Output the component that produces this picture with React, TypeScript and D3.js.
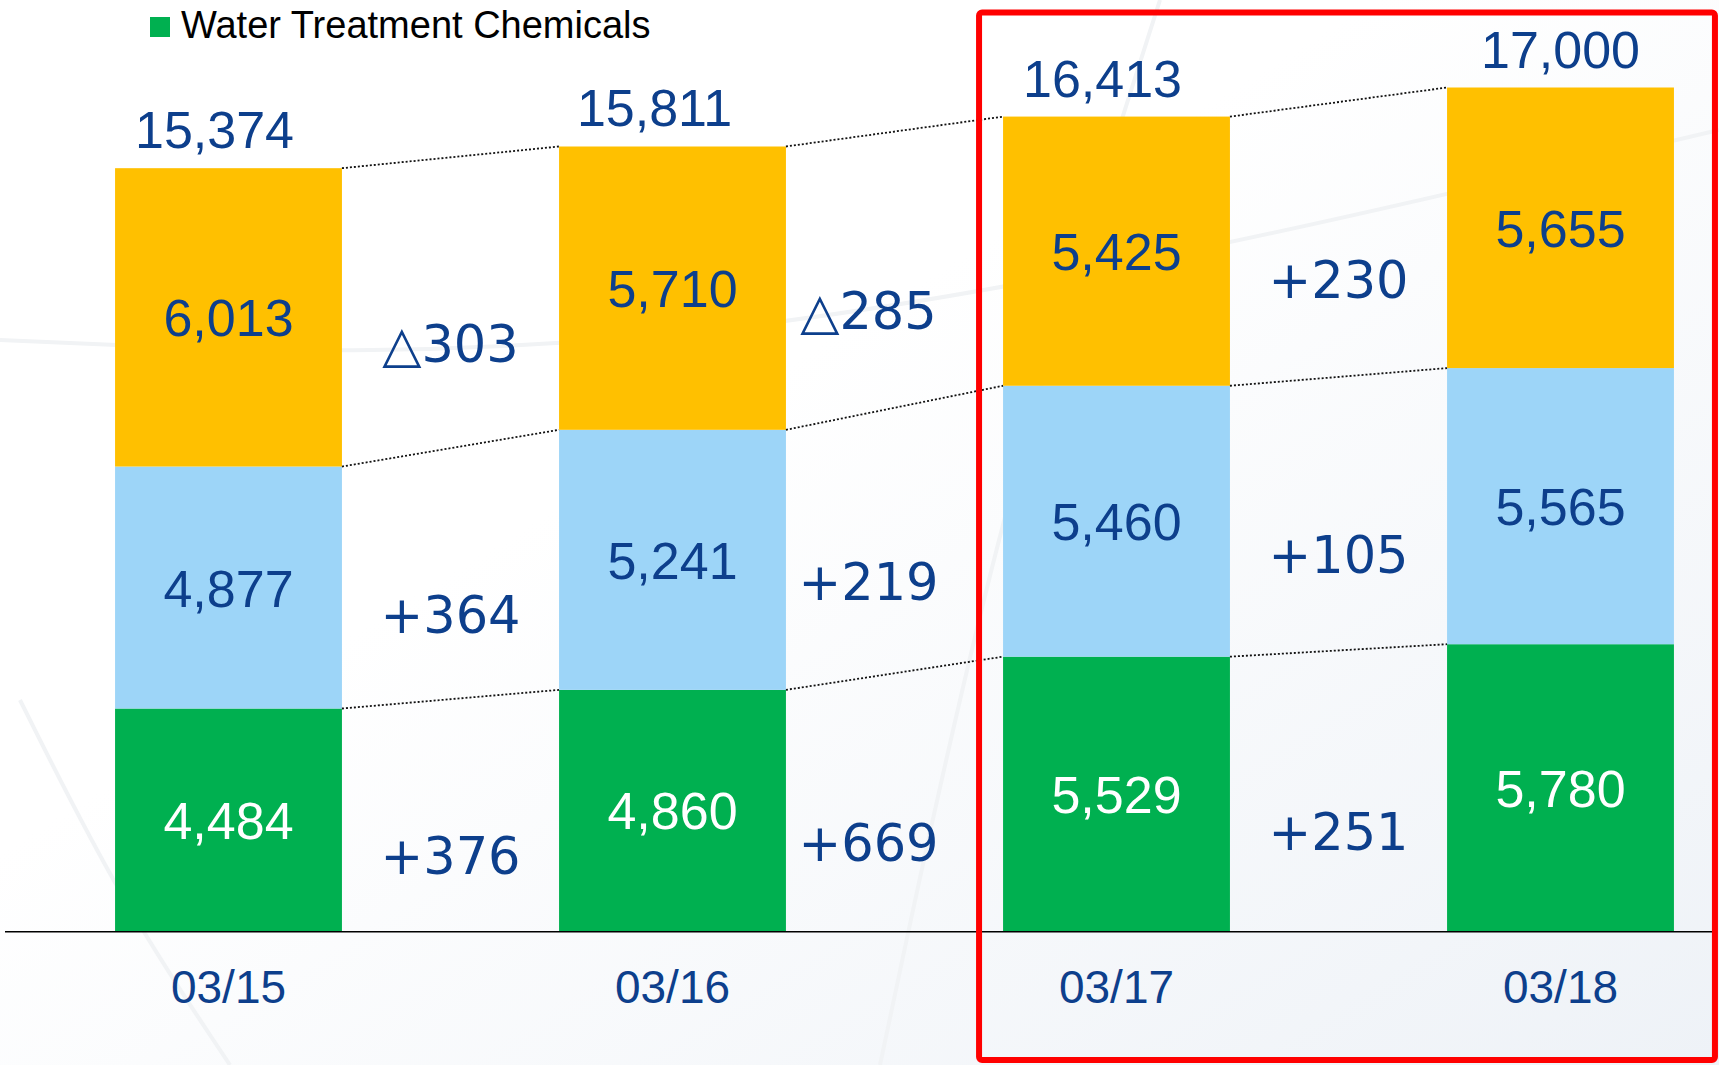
import React, { useEffect, useRef } from 'react';
import * as d3 from 'd3';

const YEARS = ['03/15', '03/16', '03/17', '03/18'];
const WATER_CHEMICALS = [4484, 4860, 5529, 5780];
const SEGMENT_BLUE = [4877, 5241, 5460, 5565];
const SEGMENT_YELLOW = [6013, 5710, 5425, 5655];
const TOTALS = [15374, 15811, 16413, 17000];
const LEGEND_LABEL = 'Water Treatment Chemicals';
const HIGHLIGHT = ['03/17', '03/18'];

const WIDTH = 1719;
const HEIGHT = 1065;
const BASE_Y = 931;
const TOP_Y = 87.5;

const GREEN = '#00B050';
const BLUE = '#9DD5F8';
const YELLOW = '#FFC000';
const NAVY = '#0D3F8C';
const SANS = '"Liberation Sans", Arial, sans-serif';
const WIDE = '"DejaVu Sans", Verdana, sans-serif';

// the middle delta column is nudged left to clear the highlight box,
// and the older totals sit a little left of their bars as in the slide
const GAP_NUDGE = [0, -26, 0];
const TOTAL_NUDGE = [-14, -18, -14, 0];

type Row = { year: string; green: number; blue: number; yellow: number };
const KEYS = ['green', 'blue', 'yellow'] as const;
const FILL: Record<string, string> = { green: GREEN, blue: BLUE, yellow: YELLOW };

const App: React.FC = () => {
  const svgRef = useRef<SVGSVGElement>(null);

  useEffect(() => {
    if (!svgRef.current) return;
    const root = d3.select(svgRef.current);
    root.selectAll('*').remove();

    const rows: Row[] = YEARS.map((year, i) => ({
      year,
      green: WATER_CHEMICALS[i],
      blue: SEGMENT_BLUE[i],
      yellow: SEGMENT_YELLOW[i],
    }));

    const x = d3.scalePoint<string>().domain(YEARS).range([228.5, 1560.5]);
    const barW = x.step() * 0.511;
    const y = d3
      .scaleLinear()
      .domain([0, d3.max(TOTALS) || 0])
      .range([BASE_Y, TOP_Y]);

    // soft slide-style background
    const defs = root.append('defs');
    const grad = defs
      .append('linearGradient')
      .attr('id', 'bg')
      .attr('x1', '0')
      .attr('y1', '0')
      .attr('x2', '1')
      .attr('y2', '1');
    grad.append('stop').attr('offset', '0.4').attr('stop-color', '#ffffff');
    grad.append('stop').attr('offset', '1').attr('stop-color', '#eef2f7');
    root.append('rect').attr('width', WIDTH).attr('height', HEIGHT).attr('fill', 'url(#bg)');
    const swoosh = d3.line().curve(d3.curveBasis);
    [
      [[20, 700], [120, 900], [230, 1065]],
      [[1160, 0], [1000, 500], [880, 1065]],
      [[0, 340], [700, 370], [1719, 130]],
    ].forEach(pts =>
      root
        .append('path')
        .attr('d', swoosh(pts as [number, number][]))
        .attr('fill', 'none')
        .attr('stroke', '#f1f3f5')
        .attr('stroke-width', 4),
    );

    const series = d3.stack<Row>().keys(KEYS as unknown as string[])(rows);

    // bars
    series.forEach(s => {
      root
        .append('g')
        .selectAll('rect')
        .data(s)
        .enter()
        .append('rect')
        .attr('x', d => (x(d.data.year) || 0) - barW / 2)
        .attr('y', d => y(d[1]))
        .attr('width', barW)
        .attr('height', d => y(d[0]) - y(d[1]))
        .attr('fill', FILL[s.key]);
    });

    // dotted connectors between segment tops
    series.forEach(s => {
      for (let i = 0; i < s.length - 1; i++) {
        const a = s[i];
        const b = s[i + 1];
        const topA = s.key === 'yellow' ? TOTALS[i] : a[1];
        const topB = s.key === 'yellow' ? TOTALS[i + 1] : b[1];
        root
          .append('line')
          .attr('x1', (x(a.data.year) || 0) + barW / 2)
          .attr('y1', y(topA))
          .attr('x2', (x(b.data.year) || 0) - barW / 2)
          .attr('y2', y(topB))
          .attr('stroke', '#111')
          .attr('stroke-width', 1.8)
          .attr('stroke-dasharray', '2,2');
      }
    });

    // segment value labels
    series.forEach(s => {
      root
        .append('g')
        .selectAll('text')
        .data(s)
        .enter()
        .append('text')
        .attr('x', d => x(d.data.year) || 0)
        .attr('y', d => (y(d[0]) + y(d[1])) / 2 + 19)
        .attr('text-anchor', 'middle')
        .style('font-family', SANS)
        .style('font-size', '52px')
        .style('fill', s.key === 'green' ? '#ffffff' : NAVY)
        .text(d => d3.format(',')(d.data[s.key as keyof Row] as number));
    });

    // totals
    root
      .append('g')
      .selectAll('text')
      .data(YEARS)
      .enter()
      .append('text')
      .attr('x', (d, i) => (x(d) || 0) + TOTAL_NUDGE[i])
      .attr('y', (_d, i) => y(TOTALS[i]) - 20)
      .attr('text-anchor', 'middle')
      .style('font-family', SANS)
      .style('font-size', '52px')
      .style('fill', NAVY)
      .text((_d, i) => d3.format(',')(TOTALS[i]));

    // year-on-year changes per segment
    series.forEach(s => {
      for (let i = 0; i < s.length - 1; i++) {
        const a = s[i];
        const b = s[i + 1];
        const diff = (b[1] - b[0]) - (a[1] - a[0]);
        const midA = (y(a[0]) + y(a[1])) / 2;
        const midB = (y(b[0]) + y(b[1])) / 2;
        const cx = ((x(a.data.year) || 0) + (x(b.data.year) || 0)) / 2 + GAP_NUDGE[i];
        root
          .append('text')
          .attr('x', cx)
          .attr('y', (midA + midB) / 2 + 40 + 19)
          .attr('text-anchor', 'middle')
          .style('font-family', WIDE)
          .style('font-size', '51px')
          .style('fill', NAVY)
          .text(diff < 0 ? `△${-diff}` : `+${diff}`);
      }
    });

    // baseline
    root
      .append('line')
      .attr('x1', 5)
      .attr('x2', 1712)
      .attr('y1', BASE_Y + 0.75)
      .attr('y2', BASE_Y + 0.75)
      .attr('stroke', '#000')
      .attr('stroke-width', 1.6);

    // category labels
    root
      .append('g')
      .selectAll('text')
      .data(YEARS)
      .enter()
      .append('text')
      .attr('x', d => x(d) || 0)
      .attr('y', 1003)
      .attr('text-anchor', 'middle')
      .style('font-family', SANS)
      .style('font-size', '46px')
      .style('fill', NAVY)
      .text(d => d);

    // legend
    root
      .append('rect')
      .attr('x', 150)
      .attr('y', 17)
      .attr('width', 20)
      .attr('height', 20)
      .attr('fill', GREEN);
    root
      .append('text')
      .attr('x', 181)
      .attr('y', 38)
      .style('font-family', SANS)
      .style('font-size', '38px')
      .style('fill', '#000')
      .text(LEGEND_LABEL);

    // highlight box around the latest two periods
    const hx0 = (x(HIGHLIGHT[0]) || 0) - barW / 2 - 24;
    const hx1 = (x(HIGHLIGHT[1]) || 0) + barW / 2 + 41;
    root
      .append('rect')
      .attr('x', hx0)
      .attr('y', 12.5)
      .attr('width', hx1 - hx0)
      .attr('height', 1060 - 12.5)
      .attr('rx', 3)
      .attr('fill', 'none')
      .attr('stroke', '#FF0000')
      .attr('stroke-width', 6);
  }, []);

  return (
    <svg
      ref={svgRef}
      width={WIDTH}
      height={HEIGHT}
      style={{ position: 'absolute', left: 0, top: 0, display: 'block' }}
    />
  );
};

export default App;
